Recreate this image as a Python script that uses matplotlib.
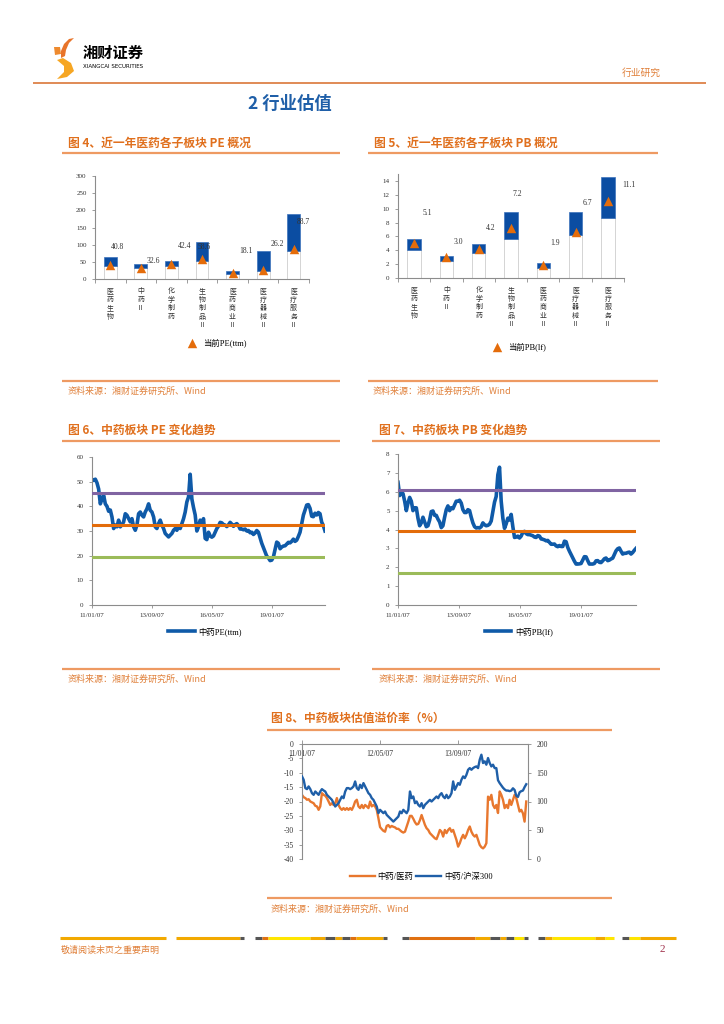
import numpy as np
import pandas as pd
import matplotlib
matplotlib.use('Agg')
import matplotlib.pyplot as plt
from matplotlib.patches import Polygon
from matplotlib.lines import Line2D

plt.rcParams['font.family'] = ['Liberation Serif', 'Noto Sans CJK SC']
plt.rcParams['axes.unicode_minus'] = False
CJK = ['Noto Sans CJK SC', 'DejaVu Sans']

# --------------------------
# data
# --------------------------
sectors = ['医药生物', '中药Ⅱ', '化学制药', '生物制品Ⅱ', '医药商业Ⅱ', '医疗器械Ⅱ', '医疗服务Ⅱ']

pe_low = [37, 31, 37, 53, 16, 24, 83]
pe_high = [63, 43, 53, 107, 23, 82, 190]
pe_now = [40.8, 32.6, 42.4, 58.6, 18.1, 26.2, 88.7]

pb_low = [4.0, 2.45, 3.55, 5.65, 1.5, 6.15, 8.6]
pb_high = [5.56, 3.2, 4.85, 9.5, 2.1, 9.45, 14.5]
pb_now = [5.1, 3.0, 4.2, 7.2, 1.9, 6.7, 11.1]

# 中药 PE(ttm), sampled from 2011-01-07 to 2021-05-19
pe_series = [51, 50.5, 51, 49.5, 47, 41, 43, 44.5, 41, 40, 38, 38.5, 35.7, 31, 32.4, 31.7,
             34.4, 31.7, 32.5, 33.7, 37, 36.4, 35, 33.7, 35, 31.7, 30.3, 32.4, 37, 37.7, 36.4,
             35.7, 37.7, 39, 41, 38.4, 37.7, 35.7, 31.7, 31, 33, 34.4, 32.4, 31, 29, 28.3, 27.6,
             28.3, 29, 30.3, 31, 30.3, 31.7, 31, 33, 35, 37.7, 41.8, 43.8, 53, 43, 39.5, 36.5,
             30, 31.7, 34.4, 33, 35, 27, 26.5, 29.5, 28, 27.5, 28, 29.5, 31, 32, 33.5, 33.3,
             32.6, 32.4, 31.8, 32.5, 33.5, 32.8, 31.9, 32.6, 33, 32.2, 30.8, 30.8, 30.5, 30.8,
             30, 30.2, 29.3, 29.5, 28.6, 29.2, 30.2, 29.5, 27.3, 25, 23.3, 21.5, 19.8, 19.1, 18,
             18.2, 19.5, 22.5, 25.5, 25, 22.8, 23.5, 23.9, 24, 24.7, 25.4, 25.2, 25.8, 26.7,
             25.8, 26.3, 27.8, 29.5, 33, 36.4, 38.5, 40.5, 40.7, 39.2, 36, 35.8, 37.2, 36.5,
             37.5, 37, 33.6, 32.2, 30]
pe_levels = [45.5, 32.5, 19.5]

# 中药 PB(lf), sampled from 2011-01-07 to 2021-06-07
pb_series = [6.5, 5.8, 6.0, 5.9, 5.5, 5.0, 5.4, 5.7, 5.5, 5.0, 5.15, 5.15, 4.6, 4.2, 4.35, 4.65,
             4.4, 4.15, 4.2, 4.5, 4.95, 4.98, 4.75, 4.75, 4.55, 4.4, 4.1, 4.2, 4.65, 5.05, 5.25,
             5.0, 5.15, 5.1, 5.3, 5.5, 5.5, 5.55, 5.4, 5.05, 4.9, 4.9, 5.05, 5.0, 4.65, 4.35,
             4.15, 4.08, 4.1, 4.08, 4.15, 4.35, 4.25, 4.2, 4.22, 4.28, 4.45, 4.95, 5.45, 5.75,
             6.9, 7.3, 5.5, 4.6, 4.06, 4.3, 4.6, 4.5, 4.8, 4.15, 3.58, 3.6, 3.65, 3.55, 3.65,
             3.85, 3.9, 3.78, 3.73, 3.73, 3.7, 3.67, 3.6, 3.58, 3.68, 3.65, 3.5, 3.48, 3.45, 3.4,
             3.42, 3.32, 3.22, 3.22, 3.23, 3.13, 3.09, 3.15, 3.1, 3.1, 3.38, 3.35, 3.05, 2.85,
             2.67, 2.5, 2.32, 2.17, 2.17, 2.18, 2.2, 2.38, 2.56, 2.55, 2.35, 2.17, 2.17, 2.17,
             2.2, 2.34, 2.35, 2.26, 2.25, 2.34, 2.45, 2.49, 2.35, 2.38, 2.44, 2.48, 2.68, 2.87,
             2.98, 3.02, 2.85, 2.7, 2.74, 2.74, 2.78, 2.8, 2.7, 2.78, 2.9, 3.0]
pb_levels = [6.1, 3.9, 1.7]

# 溢价率, sampled from 2011-01-07 to 2014-11-05
prem_med = [-17.7, -18.5, -18.8, -19.4, -19.2, -20, -20.3, -20.6, -21.5, -21.7, -22.9, -21.7,
            -17.1, -17.7, -18, -18.8, -20, -21.2, -20.6, -21.2, -20.6, -18.8, -21.2, -22.3,
            -22.9, -22.3, -22.9, -22.3, -22.9, -22.3, -22.9, -21.7, -20, -19.4, -21.7, -22.3,
            -21.2, -22.3, -21.2, -21.7, -22.3, -20, -21.7, -21.2, -21.7, -22.9, -25.8, -28.9,
            -29.6, -30.2, -30.5, -28.5, -28.2, -29, -28.5, -28.8, -29, -29.5, -29.5, -30,
            -30.5, -30.8, -30.5, -28.8, -27, -25, -25, -26, -27.2, -28, -27.8, -26.5, -24.7,
            -26.4, -28.1, -29.3, -29.9, -31, -31.6, -32.2, -32.8, -33.1, -31.6, -29.9, -30.5,
            -32.2, -29.9, -31, -29.9, -29.3, -30.5, -29.9, -31.6, -33.4, -35.7, -34.5, -32.8,
            -31.6, -32.8, -31.6, -29.9, -28.7, -30.5, -31.6, -32.2, -31.6, -33.4, -35.1, -35.9,
            -36.3, -35.7, -34.5, -18.3, -19.4, -17.7, -21.2, -22.3, -21.2, -24, -16.5, -17.7,
            -19.4, -22.3, -21.2, -22.3, -19.4, -21.2, -19.4, -17.7, -18.8, -21.2, -23.5, -22.9,
            -24.1, -27, -20]
prem_hs300 = [143.6, 137.8, 123.3, 121.5, 126.2, 121.5, 114.5, 111.6, 117.4, 114.5, 111.6,
              117.4, 121.5, 119.2, 117.4, 111.6, 108.7, 105.8, 102.9, 97.1, 91.3, 94.2, 97.1,
              102.9, 108.7, 105.8, 117.4, 123.3, 123.3, 121.5, 123.3, 126.2, 134.9, 123.3,
              120.3, 129.1, 123.3, 132, 126.2, 120.3, 114.5, 111.6, 105.8, 102.9, 97.1, 91.3,
              79.7, 85.5, 82.6, 79.7, 82.6, 76.7, 73.8, 70.9, 68, 65.1, 68, 70.9, 73.8, 82.6,
              79.7, 85.5, 82.6, 79.7, 85.5, 117.4, 105.8, 108.7, 97.1, 100, 94.2, 91.3, 97.1,
              88.4, 94.2, 97.1, 100, 102.9, 100, 102.9, 105.8, 108.7, 105.8, 111.6, 114.5,
              108.7, 105.8, 111.6, 105.8, 108.7, 114.5, 134.9, 120.3, 126.2, 132, 129.1, 137.8,
              143.6, 140.7, 146.5, 155.2, 158.1, 155.2, 158.1, 159.9, 161, 158.1, 172.7, 181.4,
              166.9, 169.8, 164, 175.6, 166.9, 161, 164, 158.1, 158.1, 137, 132, 128, 124, 121,
              119, 119, 118, 119, 123, 120, 110, 108, 116, 118, 119, 125, 130]

trend_ticks = ['2011-01-07', '2013-09-07', '2016-05-07', '2019-01-07']
prem_ticks = ['2011-01-07', '2012-05-07', '2013-09-07']

pe_dates = pd.date_range('2011-01-07', '2021-05-19', periods=len(pe_series))
pb_dates = pd.date_range('2011-01-07', '2021-06-07', periods=len(pb_series))
med_dates = pd.date_range('2011-01-07', '2014-11-05', periods=len(prem_med))
hs_dates = pd.date_range('2011-01-07', '2014-11-05', periods=len(prem_hs300))

# --------------------------
# colours
# --------------------------
BAR_BLUE = '#0B4DA2'
TRI = '#E46C0A'
LINE_BLUE = '#0F5AA8'
PURPLE = '#8064A2'
ORANGE = '#E36C0A'
GREEN = '#9BBB59'
TITLE_C = '#E0701E'
RULE_C = '#EE9A62'
SRC_C = '#E0803A'
AXC = '#8c8c8c'

W, H = 724, 1024
fig = plt.figure(figsize=(W / 100, H / 100), dpi=100)
fig.patch.set_facecolor('white')


def box(l, t, r, b):
    return fig.add_axes([l / W, 1 - b / H, (r - l) / W, (b - t) / H])


def ftext(x, y, s, **kw):
    fig.text(x / W, 1 - y / H, s, **kw)


def rule(x0, x1, y, color=RULE_C, lw=1.6):
    fig.add_artist(Line2D([x0 / W, x1 / W], [1 - y / H, 1 - y / H], color=color, lw=lw,
                          solid_capstyle='butt'))


def style_axes(ax):
    for s in ['top', 'right']:
        ax.spines[s].set_visible(False)
    for s in ['left', 'bottom']:
        ax.spines[s].set_color(AXC)
        ax.spines[s].set_linewidth(0.8)
    ax.tick_params(colors=AXC, labelcolor='#333333', labelsize=5, length=2.5, width=0.6)


# --------------------------
# header
# --------------------------
logo = box(40, 30, 80, 85)
logo.set_xlim(40, 80)
logo.set_ylim(85, 30)
logo.axis('off')
logo.add_patch(Polygon([(74, 38), (69, 39), (64, 44), (61, 51), (61, 58), (65, 56), (66, 50),
                        (69, 43)], color='#E8742A', lw=0))
logo.add_patch(Polygon([(54, 47), (60, 47), (61, 54), (55, 55)], color='#EE8A2E', lw=0))
logo.add_patch(Polygon([(57, 60), (63, 58), (71, 63), (74, 71), (67, 77), (57, 79), (64, 72),
                        (64, 66)], color='#F6A623', lw=0))
ftext(83, 53, '湘财证券', fontsize=11, fontweight='bold', family=CJK, va='center')
ftext(83, 66, 'XIANGCAI SECURITIES', fontsize=4, family=['DejaVu Sans'], va='center')
ftext(622, 73, '行业研究', fontsize=7, color=SRC_C, family=CJK, va='center')
rule(33, 706, 83, color='#E08A55', lw=1.4)
ftext(290, 104, '2 行业估值', fontsize=12.5, fontweight='bold', color='#1F5FA8', family=CJK,
      ha='center', va='center')

# --------------------------
# titles, rules and sources
# --------------------------
src = '资料来源：湘财证券研究所、Wind'
ftext(68, 143, '图 4、近一年医药各子板块 PE 概况', fontsize=8.5, fontweight='bold', color=TITLE_C,
      family=CJK, va='center')
ftext(374, 143, '图 5、近一年医药各子板块 PB 概况', fontsize=8.5, fontweight='bold', color=TITLE_C,
      family=CJK, va='center')
rule(62, 340, 153)
rule(368, 658, 153)
rule(62, 340, 381)
rule(368, 658, 381)
ftext(68, 391, src, fontsize=6.5, color=SRC_C, family=CJK, va='center')
ftext(373, 391, src, fontsize=6.5, color=SRC_C, family=CJK, va='center')

ftext(68, 430, '图 6、中药板块 PE 变化趋势', fontsize=8.5, fontweight='bold', color=TITLE_C,
      family=CJK, va='center')
ftext(379, 430, '图 7、中药板块 PB 变化趋势', fontsize=8.5, fontweight='bold', color=TITLE_C,
      family=CJK, va='center')
rule(62, 340, 441)
rule(372, 660, 441)
rule(62, 340, 669)
rule(372, 660, 669)
ftext(68, 679, src, fontsize=6.5, color=SRC_C, family=CJK, va='center')
ftext(379, 679, src, fontsize=6.5, color=SRC_C, family=CJK, va='center')

ftext(271, 718, '图 8、中药板块估值溢价率（%）', fontsize=8.5, fontweight='bold', color=TITLE_C,
      family=CJK, va='center')
rule(267, 612, 730)
rule(267, 612, 898)
ftext(271, 909, src, fontsize=6.5, color=SRC_C, family=CJK, va='center')

# --------------------------
# bar panels (fig 4 / fig 5)
# --------------------------


def bar_panel(ax, low, high, now, ymax, yticks, lbl_dx, lbl_y, leg_label, leg_xy):
    x = np.arange(len(sectors))
    low = np.array(low)
    high = np.array(high)
    ax.bar(x, low, width=0.42, color='white', edgecolor='#d4d4d4', lw=0.7)
    ax.bar(x, high - low, bottom=low, width=0.42, color=BAR_BLUE, edgecolor='#3c72bb', lw=0.5)
    ax.scatter(x, now, marker='^', s=46, color=TRI, zorder=3, label=leg_label, lw=0)
    for i, v in enumerate(now):
        ax.text(i + lbl_dx[i], lbl_y[i], f'{v:.1f}', ha='center', va='center', fontsize=5.5,
                color='#333333')
    ax.set_xlim(-0.5, len(x) - 0.5)
    ax.set_ylim(0, ymax)
    ax.set_yticks(yticks)
    style_axes(ax)
    ax.set_xticks(x)
    ax.set_xticklabels(['\n'.join(s) for s in sectors], fontsize=5, family=CJK,
                       linespacing=1.08, va='top')
    ax.tick_params(axis='x', length=0, pad=6)
    ax.set_xticks(np.arange(len(x) + 1) - 0.5, minor=True)
    ax.tick_params(axis='x', which='minor', length=3, color=AXC, width=0.6)
    ax.legend(loc='center', bbox_to_anchor=(leg_xy[0] / W, 1 - leg_xy[1] / H),
              bbox_transform=fig.transFigure, frameon=False, handletextpad=0.3,
              scatterpoints=1, prop={'family': ['Liberation Serif', 'Noto Sans CJK SC'],
                                     'size': 6})


ax4 = box(95, 176, 309, 279)
bar_panel(ax4, pe_low, pe_high, pe_now, 300, np.arange(0, 301, 50),
          [0.23, 0.4, 0.43, 0.07, 0.45, 0.45, 0.33], [93, 52, 96, 93, 82, 102, 166],
          '当前PE(ttm)', (215, 343))

ax5 = box(398, 174, 624, 278)
bar_panel(ax5, pb_low, pb_high, pb_now, 15, np.arange(0, 15, 2),
          [0.4, 0.37, 0.37, 0.2, 0.37, 0.37, 0.65], [9.4, 5.2, 7.2, 12.1, 5.0, 10.8, 13.4],
          '当前PB(lf)', (517, 347))

# --------------------------
# trend panels (fig 6 / fig 7)
# --------------------------


def trend_panel(ax, dates, vals, levels, ymax, ystep, leg_label, leg_xy):
    ax.plot(dates, vals, color=LINE_BLUE, lw=2.6, label=leg_label, zorder=2)
    for lv, c in zip(levels, [PURPLE, ORANGE, GREEN]):
        ax.axhline(lv, color=c, lw=2.2, zorder=3)
    ax.set_ylim(0, ymax)
    ax.set_yticks(np.arange(0, ymax + ystep / 2, ystep))
    ax.set_xlim(pd.Timestamp('2011-01-07'), dates[-1])
    tk = pd.to_datetime(trend_ticks)
    ax.set_xticks(tk)
    ax.set_xticklabels([d.strftime('%y/%m/%d') for d in tk])
    style_axes(ax)
    ax.legend(handles=[ax.lines[0]], loc='center',
              bbox_to_anchor=(leg_xy[0] / W, 1 - leg_xy[1] / H),
              bbox_transform=fig.transFigure, frameon=False, handlelength=3.2,
              handletextpad=0.5, prop={'family': ['Liberation Serif', 'Noto Sans CJK SC'],
                                       'size': 6})


ax6 = box(92, 457, 325, 605)
trend_panel(ax6, pe_dates, pe_series, pe_levels, 60, 10, '中药PE(ttm)', (205, 632))

ax7 = box(398, 454, 636, 605)
trend_panel(ax7, pb_dates, pb_series, pb_levels, 8, 1, '中药PB(lf)', (519, 632))

# --------------------------
# premium panel (fig 8)
# --------------------------
ax8 = box(302, 744, 528, 859)
l1, = ax8.plot(med_dates, prem_med, color='#E8772E', lw=1.7, label='中药/医药')
ax8.set_ylim(-40, 0)
ax8.set_yticks(np.arange(-40, 1, 5))
ax8.set_xlim(pd.Timestamp('2011-01-07'), pd.Timestamp('2014-11-16'))
for s in ['bottom', 'right']:
    ax8.spines[s].set_visible(False)
for s in ['top', 'left']:
    ax8.spines[s].set_color(AXC)
    ax8.spines[s].set_linewidth(0.8)
pk = pd.to_datetime(prem_ticks)
ax8.set_xticks(pk)
ax8.set_xticklabels([d.strftime('%y/%m/%d') for d in pk])
ax8.xaxis.set_ticks_position('top')
ax8.tick_params(axis='x', direction='out', length=3, pad=-13, colors=AXC, labelcolor='#333333',
                labelsize=5.5, width=0.6)
ax8.tick_params(axis='y', colors=AXC, labelcolor='#333333', labelsize=5.5, length=2.5, width=0.6)

ax8r = ax8.twinx()
l2, = ax8r.plot(hs_dates, prem_hs300, color='#1F5FA8', lw=1.7, label='中药/沪深300')
ax8r.set_ylim(0, 200)
ax8r.set_yticks(np.arange(0, 201, 50))
for s in ['top', 'left', 'bottom']:
    ax8r.spines[s].set_visible(False)
ax8r.spines['right'].set_color(AXC)
ax8r.spines['right'].set_linewidth(0.8)
ax8r.tick_params(axis='y', colors=AXC, labelcolor='#333333', labelsize=5.5, length=2.5, width=0.6)
ax8.legend(handles=[l1, l2], loc='center', bbox_to_anchor=(421 / W, 1 - 877 / H),
           bbox_transform=fig.transFigure, frameon=False, ncol=2, handlelength=3.0,
           handletextpad=0.3, columnspacing=0.4,
           prop={'family': ['Liberation Serif', 'Noto Sans CJK SC'], 'size': 6})

# --------------------------
# footer
# --------------------------
GOLD, YEL, GRY, ORG = '#F2A900', '#FFE600', '#555555', '#E07010'
footer = [(60, 166, GOLD), (176, 240, GOLD), (240, 244, GRY),
          (255, 262, GRY), (262, 268, ORG), (268, 310, YEL), (310, 325, GOLD), (325, 335, GRY),
          (335, 342, GOLD), (342, 350, GRY), (350, 356, ORG), (356, 383, GOLD), (383, 387, GRY),
          (402, 409, GRY), (409, 475, ORG), (475, 490, GOLD), (490, 500, GRY), (500, 506, GOLD),
          (506, 514, GRY), (514, 524, YEL), (524, 528, GRY),
          (538, 545, GRY), (545, 552, GOLD), (552, 595, YEL), (595, 605, GOLD), (605, 614, YEL),
          (622, 629, GRY), (629, 640, YEL), (640, 676, GOLD)]
for x0, x1, c in footer:
    rule(x0, x1, 938, color=c, lw=2.2)
ftext(61, 950, '敬请阅读末页之重要声明', fontsize=6.5, color=SRC_C, family=CJK, va='center')
ftext(660, 950, '2', fontsize=8, color='#A0304A', va='center')

fig.savefig('out.png', dpi=100, facecolor='white')
